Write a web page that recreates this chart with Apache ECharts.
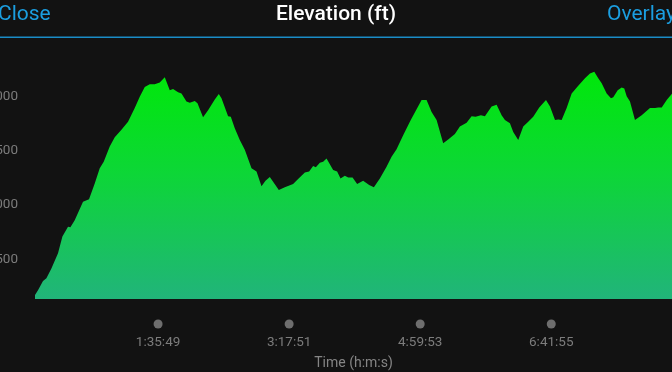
<!DOCTYPE html>
<html>
<head>
<meta charset="utf-8">
<script src="https://cdn.jsdelivr.net/npm/echarts@6/dist/echarts.min.js"></script>
<style>
html,body{margin:0;padding:0;background:#121212;}
#chart{width:672px;height:372px;}
</style>
</head>
<body>
<div id="chart"></div>
<script>
// elapsed time in seconds
const timeSec = [0,140,374,533,766,1075,1280,1542,1654,1855,2243,2524,2790,3024,3210,3491,3725,4038,4346,4659,4893,5127,5360,5594,5828,6062,6295,6449,6683,6842,7075,7230,7463,7590,7851,8085,8398,8585,8711,9019,9146,9332,9566,9800,10113,10347,10580,10767,10968,11122,11389,11669,11749,12057,12291,12604,12805,12992,13118,13305,13459,13618,13927,14113,14272,14473,14627,14833,15048,15328,15609,15829,16109,16422,16656,16889,17198,17511,17590,17824,18058,18291,18525,18759,19067,19301,19614,19847,20161,20394,20581,20829,21016,21329,21563,21796,21951,22184,22339,22573,22806,23040,23273,23554,23869,24056,24290,24444,24523,24600,24834,25068,25376,25690,25923,26124,26311,26470,26703,26904,27012,27218,27405,27526,27638,27792,28026,28339,28727,28961,29115,29274,29508,29741,29900];
// elevation in feet
const elevationFt = [170,215,300,325,415,555,710,800,795,860,1030,1055,1200,1340,1400,1540,1625,1695,1770,1895,2000,2090,2115,2115,2130,2180,2060,2070,2040,2030,1955,1945,1960,1940,1810,1875,1975,2025,1985,1820,1815,1710,1600,1510,1340,1310,1175,1225,1260,1215,1140,1165,1175,1195,1240,1300,1310,1360,1350,1390,1400,1430,1325,1310,1245,1270,1255,1255,1195,1225,1185,1165,1245,1355,1445,1515,1645,1770,1800,1885,1970,1970,1860,1785,1570,1605,1655,1725,1760,1820,1815,1830,1820,1910,1925,1830,1785,1755,1675,1600,1725,1770,1815,1900,1970,1910,1785,1790,1800,1785,1895,2030,2100,2170,2215,2230,2170,2125,2030,1985,1995,2060,2085,2075,2005,1955,1785,1830,1895,1895,1900,1900,1970,2025,2045];
// axis ticks
const xTickSec = [5749, 11871, 17993, 24115];
const xTickLabels = ['1:35:49', '3:17:51', '4:59:53', '6:41:55'];
const yTickValues = [500, 1000, 1500, 2000];

const chart = echarts.init(document.getElementById('chart'), null, {renderer: 'canvas'});
const seriesData = timeSec.map((t, i) => [t, elevationFt[i]]);
const blue = '#1b9ee0';

chart.setOption({
  backgroundColor: '#121212',
  animation: false,
  title: [
    {text: 'Elevation (ft)', left: 'center', top: 4, padding: 0,
     textStyle: {color: '#ffffff', fontSize: 21, fontWeight: 500, fontFamily: 'Roboto'}},
    {text: 'Close', left: -2, top: 4, padding: 0,
     textStyle: {color: blue, fontSize: 21, fontWeight: 'normal', fontFamily: 'Roboto'}},
    {text: 'Overlay', right: -4, top: 4, padding: 0,
     textStyle: {color: blue, fontSize: 21, fontWeight: 'normal', fontFamily: 'Roboto'}}
  ],
  graphic: [
    {type: 'rect', left: 0, top: 36.5, shape: {width: 672, height: 1.5}, style: {fill: '#1a8cc6'}, silent: true}
  ],
  grid: {left: 35, right: 0, top: 40, bottom: 73, containLabel: false, outerBoundsMode: 'none'},
  xAxis: {
    type: 'value',
    min: 0,
    max: 29755,
    axisLine: {show: false},
    axisTick: {show: false},
    splitLine: {show: false},
    name: 'Time (h:m:s)',
    nameLocation: 'middle',
    nameGap: 57,
    nameTextStyle: {color: '#858585', fontSize: 14, fontFamily: 'Roboto'},
    axisLabel: {
      customValues: xTickSec,
      margin: 20,
      formatter: function (v) {
        const i = xTickSec.indexOf(v);
        return '{d|}\n{t|' + (i >= 0 ? xTickLabels[i] : '') + '}';
      },
      rich: {
        d: {width: 9, height: 9, borderRadius: 4.5, backgroundColor: '#6e6e6e', lineHeight: 10},
        t: {color: '#7c7c7c', fontSize: 13.5, fontFamily: 'Roboto', lineHeight: 28}
      }
    }
  },
  yAxis: {
    type: 'value',
    min: 134,
    max: 2523,
    axisLine: {show: false},
    axisTick: {show: false},
    splitLine: {show: false},
    axisLabel: {
      customValues: yTickValues,
      margin: 17,
      color: '#7c7c7c',
      fontSize: 13.5,
      fontFamily: 'Roboto',
      formatter: function (v) { return String(v); }
    }
  },
  series: [{
    type: 'line',
    data: seriesData,
    showSymbol: false,
    symbol: 'none',
    lineStyle: {width: 0},
    areaStyle: {
      opacity: 1,
      color: new echarts.graphic.LinearGradient(0, 0, 0, 1, [
        {offset: 0, color: '#00e80a'},
        {offset: 0.45, color: '#0dd637'},
        {offset: 1, color: '#21b47a'}
      ])
    }
  }]
});
</script>
</body>
</html>
